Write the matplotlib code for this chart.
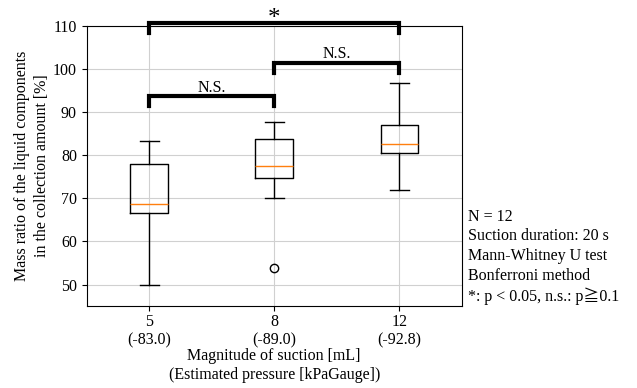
import matplotlib.pyplot as plt

plt.rcParams['font.family'] = ['Liberation Serif', 'Noto Sans CJK JP', 'DejaVu Serif']
plt.rcParams['font.size'] = 11.5

# box summary values
labels = ["5\n(-83.0)", "8\n(-89.0)", "12\n(-92.8)"]
whislo = [50.0, 70.0, 72.0]
q1 = [66.7, 74.8, 80.5]
med = [68.8, 77.6, 82.7]
q3 = [78.0, 83.8, 87.0]
whishi = [83.3, 87.7, 96.8]
fliers = [[], [53.8], []]

# significance brackets: (left box, right box, height, label)
brackets = [(1, 2, 93.8, "N.S."), (2, 3, 101.5, "N.S."), (1, 3, 110.7, "*")]

stats = []
for i in range(3):
    stats.append(dict(whislo=whislo[i], q1=q1[i], med=med[i], q3=q3[i],
                      whishi=whishi[i], fliers=fliers[i], label=labels[i]))

fig = plt.figure(figsize=(6.37, 3.88), dpi=100)
ax = fig.add_axes([0.136, 0.211, 0.589, 0.722])
ax.bxp(stats, positions=[1, 2, 3], widths=0.3,
       medianprops=dict(color='#ff7f0e'),
       flierprops=dict(marker='o', markerfacecolor='none', markeredgecolor='black'))
ax.set_xlim(0.5, 3.5)
ax.set_ylim(45, 110)
ax.set_yticks([50, 60, 70, 80, 90, 100, 110])
ax.tick_params(axis='x', pad=2)
ax.grid(True, color='#d0d0d0')
ax.set_axisbelow(True)

for x0, x1, h, txt in brackets:
    ax.plot([x0, x0, x1, x1], [h - 2.3, h, h, h - 2.3], color='black', lw=3,
            clip_on=False, solid_joinstyle='miter')
    if txt == "*":
        ax.text((x0 + x1) / 2, h - 0.4, txt, ha='center', va='baseline', fontsize=18)
    else:
        ax.text((x0 + x1) / 2, h + 1.0, txt, ha='center', va='baseline')

ax.set_xlabel("Magnitude of suction [mL]\n(Estimated pressure [kPaGauge])", labelpad=0)
ax.set_ylabel("Mass ratio of the liquid components\nin the collection amount [%]",
              linespacing=1.35, labelpad=2)

fig.text(0.735, 0.462, "N = 12\nSuction duration: 20 s\nMann-Whitney U test\n"
         "Bonferroni method\n*: p < 0.05, n.s.: p\u22670.1", ha='left', va='top',
         linespacing=1.3)

fig.savefig("out.png", dpi=100)
